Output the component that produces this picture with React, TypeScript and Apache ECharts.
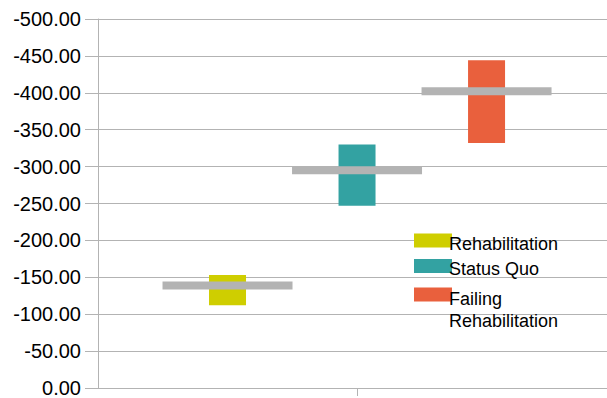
import React, { useEffect, useRef } from "react";
import * as echarts from "echarts";

const seriesNames = ["Rehabilitation", "Status Quo", "Failing Rehabilitation"];
const seriesColors = ["#cfce00", "#33a2a2", "#e9603d"];
const positions = [1, 2, 3];
const lowValues = [-112, -247, -332];
const highValues = [-153, -330, -444];
const meanValues = [-139, -295, -402];
const yTicks = { min: -500, max: 0, step: 50 };
const xRange = { min: 0, max: 3.93, tick: 2 };

const FONT = "'Liberation Sans', Arial, sans-serif";

export default function App() {
  const ref = useRef<HTMLDivElement>(null);
  useEffect(() => {
    if (!ref.current) return;
    const chart = echarts.init(ref.current, null, { renderer: "svg" });

    const barSeries = seriesNames.map((name, i) => ({
      name,
      type: "custom",
      itemStyle: { color: seriesColors[i] },
      encode: { x: 0, y: [1, 2] },
      data: [[positions[i], lowValues[i], highValues[i]]],
      z: 2,
      renderItem: (params: any, api: any) => {
        const x = api.value(0);
        const p1 = api.coord([x, api.value(1)]);
        const p2 = api.coord([x, api.value(2)]);
        const w = 37;
        return {
          type: "rect",
          shape: {
            x: p1[0] - w / 2,
            y: Math.min(p1[1], p2[1]),
            width: w,
            height: Math.abs(p2[1] - p1[1]),
          },
          style: { fill: api.visual("color") },
        };
      },
    }));

    const meanSeries = {
      name: "Mean",
      type: "custom",
      itemStyle: { color: "#b3b3b3" },
      encode: { x: 0, y: 1 },
      data: positions.map((p, i) => [p, meanValues[i]]),
      z: 3,
      renderItem: (params: any, api: any) => {
        const c = api.coord([api.value(0), api.value(1)]);
        const w = 130;
        const h = 8;
        return {
          type: "rect",
          shape: { x: c[0] - w / 2, y: c[1] - h / 2, width: w, height: h },
          style: { fill: api.visual("color") },
        };
      },
    };

    const legendText = {
      fontFamily: FONT,
      fontSize: 18,
      color: "#000",
      padding: [0, 0, 0, -8],
    };

    chart.setOption({
      animation: false,
      backgroundColor: "#ffffff",
      textStyle: { fontFamily: FONT },
      grid: { left: 98, top: 19, bottom: 9, right: 0, containLabel: false },
      legend: [
        {
          data: [seriesNames[0], seriesNames[1]],
          orient: "vertical",
          left: 414,
          top: 232,
          padding: 0,
          itemGap: 5,
          itemWidth: 38,
          itemHeight: 14,
          icon: "rect",
          selectedMode: false,
          formatter: (name: string) => "{s| }\n{a|" + name + "}",
          textStyle: {
            ...legendText,
            rich: {
              s: { lineHeight: 6, fontSize: 1 },
              a: { fontFamily: FONT, fontSize: 18, color: "#000", lineHeight: 16 },
            },
          },
        },
        {
          data: [seriesNames[2]],
          orient: "vertical",
          left: 414,
          top: 272,
          padding: 0,
          itemWidth: 38,
          itemHeight: 14,
          icon: "rect",
          selectedMode: false,
          formatter: (name: string) =>
            "{s| }\n" +
            name
              .split(" ")
              .map((w) => "{a|" + w + "}")
              .join("\n"),
          textStyle: {
            ...legendText,
            rich: {
              s: { lineHeight: 30, fontSize: 1 },
              a: { fontFamily: FONT, fontSize: 18, color: "#000", lineHeight: 22 },
            },
          },
        },
      ],
      xAxis: {
        type: "value",
        min: xRange.min,
        max: xRange.max,
        axisLine: { show: true, lineStyle: { color: "#b3b3b3", width: 1 } },
        axisTick: {
          show: true,
          length: 8,
          customValues: [xRange.tick],
          lineStyle: { color: "#b3b3b3" },
        },
        axisLabel: { show: false },
        splitLine: { show: false },
      },
      yAxis: {
        type: "value",
        inverse: true,
        min: yTicks.min,
        max: yTicks.max,
        interval: yTicks.step,
        axisLine: { show: true, lineStyle: { color: "#b3b3b3", width: 1 } },
        axisTick: { show: true, length: 13, lineStyle: { color: "#b3b3b3" } },
        axisLabel: {
          margin: 17,
          fontFamily: FONT,
          fontSize: 20,
          color: "#000",
          formatter: (v: number) => v.toFixed(2),
        },
        splitLine: { show: true, lineStyle: { color: "#b3b3b3", width: 1 } },
      },
      series: [...barSeries, meanSeries],
    });
    return () => chart.dispose();
  }, []);
  return (
    <div
      ref={ref}
      style={{ position: "fixed", left: 0, top: 0, width: 607, height: 398 }}
    />
  );
}
